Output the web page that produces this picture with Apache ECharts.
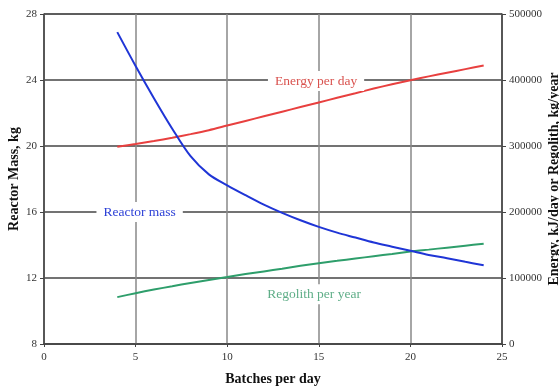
<!DOCTYPE html>
<html>
<head>
<meta charset="utf-8">
<script src="https://cdn.jsdelivr.net/npm/echarts@6/dist/echarts.min.js"></script>
<style>
  html, body { margin: 0; padding: 0; background: #fff; }
  #chart { width: 559px; height: 387px; }
</style>
</head>
<body>
<div id="chart"></div>
<script>
// Batches per day (x values shared by all three curves)
var batches = [4, 5, 6, 7, 8, 9, 10, 11, 12, 13, 14, 15, 16, 17, 18, 19, 20, 21, 22, 23, 24];
// Reactor mass, kg (left axis)
var reactorMass = [26.9, 24.85, 22.9, 21.05, 19.38, 18.28, 17.62, 17.02, 16.45, 15.95, 15.5, 15.1,
                   14.75, 14.45, 14.15, 13.9, 13.65, 13.4, 13.2, 12.98, 12.77];
// Energy per day, kJ/day (right axis)
var energyPerDay = [299000, 303000, 307500, 312500, 318000, 324000, 331000, 338000, 345000, 352000,
                    359000, 366000, 373000, 380000, 387000, 393500, 399500, 405500, 411000, 416500, 422000];
// Regolith per year, kg/year (right axis)
var regolithPerYear = [71000, 77000, 82500, 87500, 92500, 97000, 101500, 106000, 110000, 114000,
                       118500, 122500, 126000, 129500, 133000, 136500, 140000, 143000, 146000, 149000, 152000];

var xTicks = { min: 0, max: 25, interval: 5 };
var leftTicks = { min: 8, max: 28, interval: 4 };
var rightTicks = { min: 0, max: 500000, interval: 100000 };

function pairs(xs, ys) {
  return xs.map(function (x, i) { return [x, ys[i]]; });
}

var serif = '"Liberation Serif", "DejaVu Serif", serif';

// Curve name written on the plot, on a white box that breaks the grid lines
function seriesLabel(text, coord, color) {
  return {
    symbol: 'rect',
    symbolSize: 0,
    silent: true,
    label: {
      show: true,
      position: 'inside',
      formatter: text,
      color: color,
      fontFamily: serif,
      fontSize: 13.5,
      backgroundColor: '#fff',
      padding: [3, 7]
    },
    data: [{ coord: coord }]
  };
}

var chart = echarts.init(document.getElementById('chart'), null, { renderer: 'canvas' });

chart.setOption({
  animation: false,
  backgroundColor: '#fff',
  grid: {
    left: 44, right: 57, top: 14, bottom: 43,
    outerBoundsMode: 'none',
    containLabel: false,
    show: true, borderColor: '#555', borderWidth: 1, backgroundColor: 'transparent'
  },
  xAxis: {
    type: 'value',
    min: xTicks.min, max: xTicks.max, interval: xTicks.interval,
    name: 'Batches per day',
    nameLocation: 'middle',
    nameGap: 28,
    nameMoveOverlap: false,
    nameTextStyle: { fontFamily: serif, fontWeight: 'bold', fontSize: 14, color: '#111' },
    axisLine: { lineStyle: { color: '#444', width: 1.5 } },
    axisTick: { length: 3, lineStyle: { color: '#444' } },
    axisLabel: { fontFamily: serif, fontSize: 11, color: '#333', margin: 8 },
    splitLine: { show: true, lineStyle: { color: '#888', width: 1.5 } }
  },
  yAxis: [
    {
      type: 'value',
      min: leftTicks.min, max: leftTicks.max, interval: leftTicks.interval,
      name: 'Reactor Mass, kg',
      nameLocation: 'middle',
      nameGap: 23,
      nameRotate: 90,
      nameMoveOverlap: false,
      nameTextStyle: { fontFamily: serif, fontWeight: 'bold', fontSize: 14, color: '#111' },
      axisLine: { show: true, lineStyle: { color: '#444', width: 1.5 } },
      axisTick: { show: true, length: 4, lineStyle: { color: '#444' } },
      axisLabel: { fontFamily: serif, fontSize: 11, color: '#333', margin: 7 },
      splitLine: { show: true, lineStyle: { color: '#444', width: 1.5 } }
    },
    {
      type: 'value',
      position: 'right',
      min: rightTicks.min, max: rightTicks.max, interval: rightTicks.interval,
      name: 'Energy, kJ/day or Regolith, kg/year',
      nameLocation: 'middle',
      nameGap: 45,
      nameRotate: 90,
      nameMoveOverlap: false,
      nameTextStyle: { fontFamily: serif, fontWeight: 'bold', fontSize: 14, color: '#111' },
      axisLine: { show: true, lineStyle: { color: '#444', width: 1.5 } },
      axisTick: { show: true, length: 4, lineStyle: { color: '#444' } },
      axisLabel: {
        fontFamily: serif, fontSize: 11, color: '#333', margin: 7,
        formatter: function (v) { return String(v); }
      },
      splitLine: { show: false }
    }
  ],
  series: [
    {
      name: 'Energy per day',
      type: 'line',
      yAxisIndex: 1,
      smooth: 0.3,
      showSymbol: false,
      lineStyle: { color: '#e8403f', width: 2 },
      data: pairs(batches, energyPerDay),
      markPoint: seriesLabel('Energy per day', [14.85, 398500], '#d9534f'),
      z: 3
    },
    {
      name: 'Regolith per year',
      type: 'line',
      yAxisIndex: 1,
      smooth: 0.3,
      showSymbol: false,
      lineStyle: { color: '#2e9e6b', width: 2 },
      data: pairs(batches, regolithPerYear),
      markPoint: seriesLabel('Regolith per year', [14.74, 75500], '#5fae88'),
      z: 3
    },
    {
      name: 'Reactor mass',
      type: 'line',
      yAxisIndex: 0,
      smooth: 0.35,
      showSymbol: false,
      lineStyle: { color: '#1f35d6', width: 2 },
      data: pairs(batches, reactorMass),
      markPoint: seriesLabel('Reactor mass', [5.22, 16], '#2b3fd6'),
      z: 3
    }
  ]
});
</script>
</body>
</html>
